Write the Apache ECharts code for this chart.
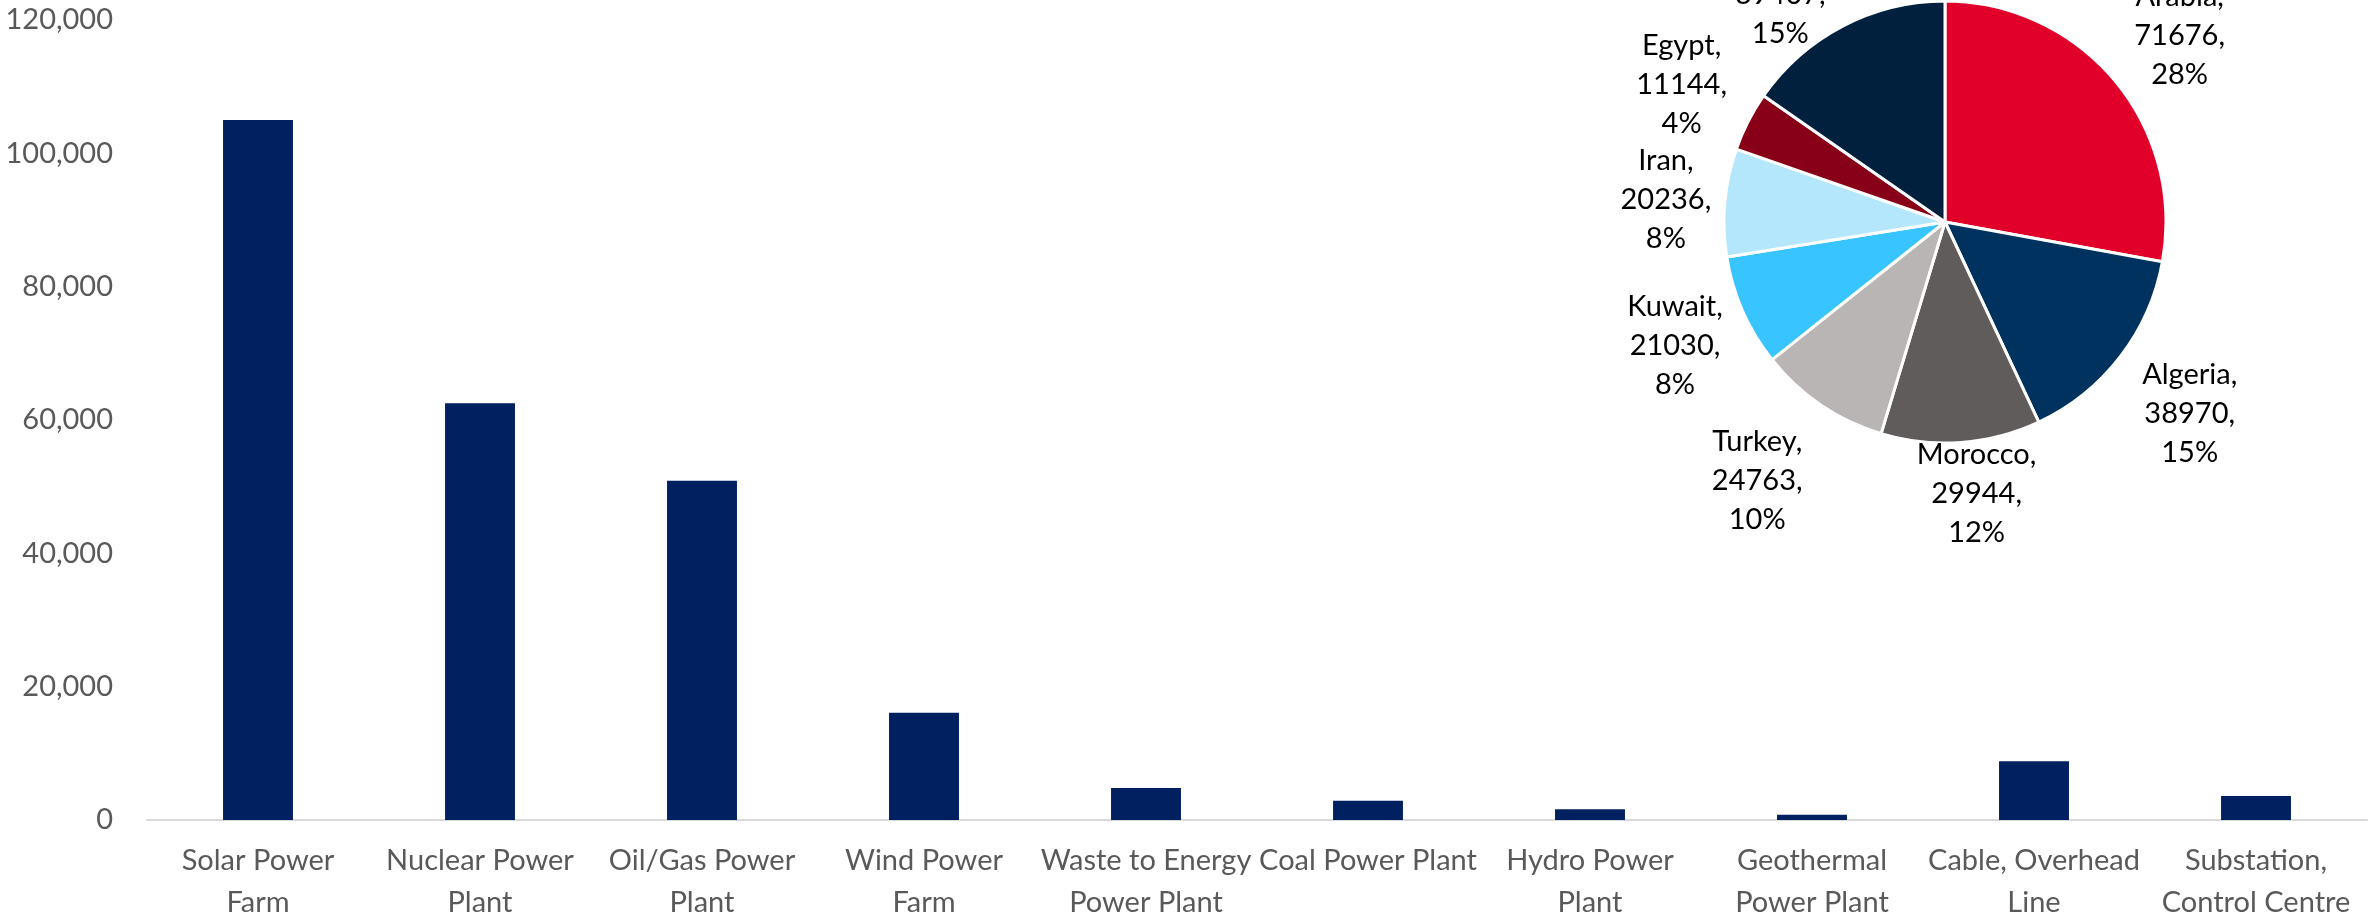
<!DOCTYPE html>
<html>
<head>
<meta charset="utf-8">
<title>Power projects by type and country</title>
<script src="https://cdn.jsdelivr.net/npm/echarts@6/dist/echarts.min.js"></script>
<style>
  html, body { margin: 0; padding: 0; background: #ffffff; height: 100%; overflow: hidden; }
  #chart { width: 2379px; height: 924px; }
</style>
</head>
<body>
<div id="chart"></div>
<script>
// Project value by asset type (bars)
const categories = [
  'Solar Power\nFarm', 'Nuclear Power\nPlant', 'Oil/Gas Power\nPlant', 'Wind Power\nFarm',
  'Waste to Energy\nPower Plant', 'Coal Power Plant', 'Hydro Power\nPlant',
  'Geothermal\nPower Plant', 'Cable, Overhead\nLine', 'Substation,\nControl Centre'
];
const typeValues = [105000, 62500, 50900, 16100, 4800, 2900, 1600, 800, 8800, 3600];

// Value axis range
const axisMin = 0;
const axisMax = 120000;
const axisStep = 20000;

// Project value by country (pie), clockwise from 12 o'clock
const countries = ['Saudi\nArabia', 'Algeria', 'Morocco', 'Turkey', 'Kuwait', 'Iran', 'Egypt', 'UAE'];
const countryValues = [71676, 38970, 29944, 24763, 21030, 20236, 11144, 39407];

// Styling
const barColor = '#002060';
const sliceColors = ['#E10029', '#00325F', '#605C5B', '#B8B5B4', '#38C4FE', '#B4E7FC', '#880017', '#01203E'];
const FONT = 'Lato, "Open Sans", sans-serif';
const PIE_CENTER = [1945, 222];
const PIE_RADIUS = 221;
// distance of each label block's centre from the pie centre, and a small
// angular nudge (degrees) off the slice's mid-angle so neighbours don't collide
const LABEL_DIST = [312, 311, 273, 320, 297, 280, 297, 281];
const LABEL_NUDGE = [-1.4, 0.5, -2.5, 1.8, -0.8, -0.5, 0.5, -8.3];

// Mid-angle of each slice (radians, clockwise from the top)
const total = countryValues.reduce((a, b) => a + b, 0);
const sliceMid = [];
{
  let acc = 0;
  countryValues.forEach(v => {
    sliceMid.push((acc + v / 2) / total * Math.PI * 2);
    acc += v;
  });
}

const chart = echarts.init(document.getElementById('chart'), null, { renderer: 'canvas' });

chart.setOption({
  animation: false,
  backgroundColor: '#ffffff',
  grid: { left: 147, right: 12, top: 20, bottom: 97, containLabel: false },
  xAxis: {
    type: 'category',
    data: categories,
    axisLine: { show: true, lineStyle: { color: '#D9D9D9', width: 2 } },
    axisTick: { show: false },
    axisLabel: {
      interval: 0,
      color: '#595959',
      fontFamily: FONT,
      fontSize: 29,
      lineHeight: 42,
      margin: 20
    }
  },
  yAxis: {
    type: 'value',
    min: axisMin,
    max: axisMax,
    interval: axisStep,
    axisLine: { show: false },
    axisTick: { show: false },
    splitLine: { show: false },
    axisLabel: {
      color: '#595959',
      fontFamily: FONT,
      fontSize: 29,
      margin: 34,
      formatter: v => v.toLocaleString('en-US')
    }
  },
  series: [
    {
      type: 'bar',
      data: typeValues,
      barWidth: '31.5%',
      itemStyle: { color: barColor },
      z: 2
    },
    {
      type: 'pie',
      center: PIE_CENTER,
      radius: PIE_RADIUS,
      startAngle: 90,
      clockwise: true,
      percentPrecision: 0,
      avoidLabelOverlap: false,
      data: countries.map((name, i) => ({ name, value: countryValues[i], itemStyle: { color: sliceColors[i] } })),
      itemStyle: { borderColor: '#ffffff', borderWidth: 3 },
      label: {
        show: true,
        position: 'outside',
        formatter: '{b},\n{c},\n{d}%',
        color: '#000000',
        fontFamily: FONT,
        fontSize: 29,
        lineHeight: 39,
        align: 'center'
      },
      labelLine: { show: false, length: 0, length2: 0 },
      labelLayout: function (params) {
        const i = params.dataIndex;
        const a = sliceMid[i] + LABEL_NUDGE[i] * Math.PI / 180;
        return {
          x: PIE_CENTER[0] + Math.sin(a) * LABEL_DIST[i],
          y: PIE_CENTER[1] - Math.cos(a) * LABEL_DIST[i],
          align: 'center',
          verticalAlign: 'middle'
        };
      },
      z: 5
    }
  ]
});
</script>
</body>
</html>
